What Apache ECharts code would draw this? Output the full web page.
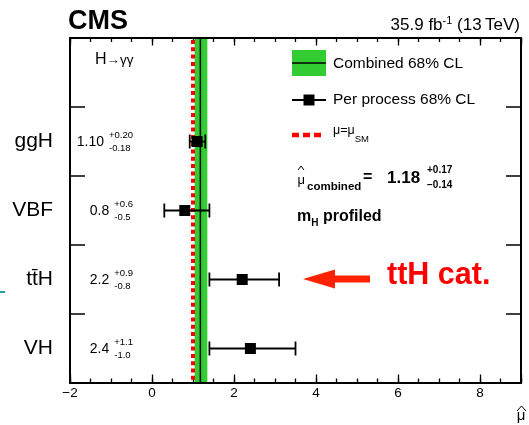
<!DOCTYPE html>
<html>
<head>
<meta charset="utf-8">
<script src="https://cdn.jsdelivr.net/npm/echarts@6/dist/echarts.min.js"></script>
<style>
  html, body { margin: 0; padding: 0; background: #fff; }
  #chart { width: 529px; height: 425px; }
</style>
</head>
<body>
<div id="chart"></div>
<script>
// Signal strength per production process, H -> gamma gamma
const processes = ['ggH', 'VBF', 'tt\u0304H', 'VH'];
const muText    = ['1.10', '0.8', '2.2', '2.4'];
const upText    = ['+0.20', '+0.6', '+0.9', '+1.1'];
const downText  = ['-0.18', '-0.5', '-0.8', '-1.0'];

// Combined fit and Standard Model reference
const combinedMu   = 1.18;
const combinedUp   = 0.17;
const combinedDown = 0.14;
const muSM = 1;

// Horizontal axis range
const xMin = -2, xMax = 9, xMajor = 2, xMinor = 0.5;

const FONT = '"Liberation Sans", Arial, Helvetica, sans-serif';
const GREEN = '#33cc33';
const RED = '#ff0000';

const measureCtx = document.createElement('canvas').getContext('2d');
function textWidth(t, size, bold) {
  measureCtx.font = (bold ? 'bold ' : '') + size + 'px ' + FONT;
  return measureCtx.measureText(t).width;
}
function txt(x, y, t, size, opts) {
  opts = opts || {};
  return {
    type: 'text', x: x, y: y, silent: true, z: 100,
    style: {
      text: t, fill: opts.color || '#000',
      font: (opts.bold ? 'bold ' : '') + size + 'px ' + FONT,
      align: opts.align || 'left', verticalAlign: 'middle'
    }
  };
}
// lay a run of text pieces left to right (optionally right-aligned at x)
function textRun(x, y, parts, alignRight) {
  const widths = parts.map(p => textWidth(p.t, p.size, p.bold) + (p.gap || 0));
  const total = widths.reduce((a, b) => a + b, 0);
  let cx = alignRight ? x - total : x;
  const out = [];
  parts.forEach((p, i) => {
    out.push(txt(cx + (p.gap || 0), y + (p.dy || 0), p.t, p.size, p));
    cx += widths[i];
  });
  return out;
}
function hat(cx, y, w, h) {
  return {
    type: 'polyline', silent: true, z: 100,
    shape: { points: [[cx - w / 2, y], [cx, y - h], [cx + w / 2, y]] },
    style: { stroke: '#000', lineWidth: 1, fill: null }
  };
}

const yCategories = [''].concat(processes);
const barData = processes.map((p, i) => [Number(muText[i]), i + 1, Number(upText[i]), -Number(downText[i])]);
const labelData = processes.map((p, i) => [0, i + 1, i]);

const chart = echarts.init(document.getElementById('chart'), null, { renderer: 'canvas' });

const commonX = { type: 'value', min: xMin, max: xMax, gridIndex: 0, splitLine: { show: false } };
const tickStyle = { color: '#000', width: 1.3 };
const frameLine = { show: true, onZero: false, lineStyle: { color: '#000', width: 2 } };

const graphics = [].concat(
  [txt(68, 22, 'CMS', 27, { bold: true })],
  textRun(520, 25.5, [
    { t: '35.9 fb', size: 17 },
    { t: '-1', size: 11, dy: -5 },
    { t: ' (13\u2009TeV)', size: 17 }
  ], true),
  textRun(95, 59.5, [
    { t: 'H', size: 16 },
    { t: '\u2192\u03b3\u03b3', size: 13.5, dy: 1 }
  ]),
  [
    // legend: combined band
    { type: 'rect', silent: true, z: 100, shape: { x: 292, y: 50, width: 34, height: 26 }, style: { fill: GREEN } },
    { type: 'line', silent: true, z: 101, shape: { x1: 292, y1: 63, x2: 326, y2: 63 }, style: { stroke: '#000', lineWidth: 1.5 } },
    txt(333, 63.5, 'Combined 68% CL', 15.5),
    // legend: per-process marker
    { type: 'line', silent: true, z: 100, shape: { x1: 292, y1: 100, x2: 326, y2: 100 }, style: { stroke: '#000', lineWidth: 1.8 } },
    { type: 'rect', silent: true, z: 101, shape: { x: 303.5, y: 94.5, width: 11, height: 11 }, style: { fill: '#000' } },
    txt(333, 99.5, 'Per process 68% CL', 15.5),
    // legend: SM line
    { type: 'line', silent: true, z: 100, shape: { x1: 292, y1: 135, x2: 321, y2: 135 }, style: { stroke: RED, lineWidth: 4.5, lineDash: [7, 4] } }
  ],
  textRun(333, 131, [
    { t: '\u03bc=\u03bc', size: 12.5 },
    { t: 'SM', size: 9.5, dy: 8 }
  ]),
  [
    txt(297.5, 180, '\u03bc', 13),
    hat(301, 170, 6, 4),
    txt(307, 187, 'combined', 11.5, { bold: true }),
    txt(363, 178, '=', 16, { bold: true }),
    txt(387, 178, '1.18', 17, { bold: true }),
    txt(427, 170.5, '+0.17', 10, { bold: true }),
    txt(427, 185.5, '\u22120.14', 10, { bold: true })
  ],
  textRun(297, 216.5, [
    { t: 'm', size: 16, bold: true },
    { t: 'H', size: 10, bold: true, dy: 7 },
    { t: ' profiled', size: 16, bold: true }
  ]),
  [
    // call-out arrow for the ttH category
    {
      type: 'polygon', silent: true, z: 100,
      shape: { points: [[303, 279], [335, 269.5], [335, 275.5], [370, 275.5], [370, 282.5], [335, 282.5], [335, 288.5]] },
      style: { fill: '#ff2200' }
    },
    txt(387, 276, 'ttH cat.', 30.5, { bold: true, color: RED }),
    { type: 'line', silent: true, z: 100, shape: { x1: 0, y1: 292, x2: 5, y2: 292 }, style: { stroke: '#2a9d9d', lineWidth: 2 } },
    // axis title
    txt(521, 416, '\u03bc', 15, { align: 'center' }),
    hat(521.5, 411, 9, 5)
  ]
);

const option = {
  animation: false,
  backgroundColor: '#fff',
  grid: { left: 70, right: 8, top: 38, bottom: 42, show: false },
  xAxis: [
    Object.assign({}, commonX, {
      position: 'bottom', interval: xMajor,
      axisLine: frameLine,
      axisTick: { show: true, inside: true, length: 8.5, lineStyle: tickStyle },
      axisLabel: {
        show: true, margin: 3, color: '#000', fontSize: 13.5, fontFamily: FONT,
        showMinLabel: true, showMaxLabel: true,
        formatter: v => (Math.abs(v % xMajor) < 1e-9 && v < xMax) ? String(v).replace('-', '\u2212') : ''
      }
    }),
    Object.assign({}, commonX, {
      position: 'bottom', interval: xMinor,
      axisLine: { show: false },
      axisTick: { show: true, inside: true, length: 4.5, lineStyle: tickStyle },
      axisLabel: { show: false }
    }),
    Object.assign({}, commonX, {
      position: 'top', interval: xMajor,
      axisLine: frameLine,
      axisTick: { show: true, inside: true, length: 7.5, lineStyle: tickStyle },
      axisLabel: { show: false }
    }),
    Object.assign({}, commonX, {
      position: 'top', interval: xMinor,
      axisLine: { show: false },
      axisTick: { show: true, inside: true, length: 4, lineStyle: tickStyle },
      axisLabel: { show: false }
    })
  ],
  yAxis: [
    {
      type: 'category', data: yCategories, inverse: true, position: 'left',
      boundaryGap: true,
      axisLine: frameLine,
      axisTick: { show: true, inside: true, length: 15, lineStyle: { color: '#000', width: 1.5 } },
      axisLabel: { show: true, color: '#000', fontSize: 21, fontFamily: FONT, margin: 17 },
      splitLine: { show: false }
    },
    {
      type: 'category', data: yCategories, inverse: true, position: 'right',
      boundaryGap: true,
      axisLine: frameLine,
      axisTick: { show: true, inside: true, length: 15, lineStyle: { color: '#000', width: 1.5 } },
      axisLabel: { show: false },
      splitLine: { show: false }
    }
  ],
  series: [
    {
      // combined 68% CL band and best fit line
      type: 'custom', xAxisIndex: 0, yAxisIndex: 0, z: 2, silent: true,
      data: [[combinedMu, combinedMu - combinedDown, combinedMu + combinedUp]],
      renderItem: function (params, api) {
        const cs = params.coordSys;
        const x0 = api.coord([api.value(1), 1])[0];
        const x1 = api.coord([api.value(2), 1])[0];
        const xc = api.coord([api.value(0), 1])[0];
        return {
          type: 'group', children: [
            { type: 'rect', shape: { x: x0, y: cs.y + 1, width: x1 - x0, height: cs.height - 2 }, style: { fill: GREEN } },
            { type: 'line', shape: { x1: xc, y1: cs.y + 1, x2: xc, y2: cs.y + cs.height - 1 }, style: { stroke: '#000', lineWidth: 1.5 } }
          ]
        };
      }
    },
    {
      // Standard Model expectation
      type: 'custom', xAxisIndex: 0, yAxisIndex: 0, z: 3, silent: true,
      data: [[muSM, 1]],
      renderItem: function (params, api) {
        const cs = params.coordSys;
        const x = api.coord([api.value(0), 1])[0];
        return {
          type: 'line',
          shape: { x1: x, y1: cs.y + 2, x2: x, y2: cs.y + cs.height - 1 },
          style: { stroke: RED, lineWidth: 4, lineDash: [4, 3.3] }
        };
      }
    },
    {
      // per-process best fit with asymmetric 68% CL interval
      type: 'custom', xAxisIndex: 0, yAxisIndex: 0, z: 4, silent: true,
      data: barData,
      renderItem: function (params, api) {
        const mu = api.value(0), cat = api.value(1), up = api.value(2), dn = api.value(3);
        const c = api.coord([mu, cat]);
        const lo = api.coord([mu - dn, cat]);
        const hi = api.coord([mu + up, cat]);
        const capH = 7, sq = 11;
        const st = { stroke: '#000', lineWidth: 1.8 };
        return {
          type: 'group', children: [
            { type: 'line', shape: { x1: lo[0], y1: c[1], x2: hi[0], y2: c[1] }, style: st },
            { type: 'line', shape: { x1: lo[0], y1: c[1] - capH, x2: lo[0], y2: c[1] + capH }, style: st },
            { type: 'line', shape: { x1: hi[0], y1: c[1] - capH, x2: hi[0], y2: c[1] + capH }, style: st },
            { type: 'rect', shape: { x: c[0] - sq / 2, y: c[1] - sq / 2, width: sq, height: sq }, style: { fill: '#000' } }
          ]
        };
      }
    },
    {
      // value with uncertainties printed beside each process
      type: 'custom', xAxisIndex: 0, yAxisIndex: 0, z: 5, silent: true,
      data: labelData,
      renderItem: function (params, api) {
        const i = api.value(2);
        const cy = api.coord([0, api.value(1)])[1];
        const right = params.coordSys.x + 63;
        const supSize = 9.5;
        const w = Math.max(textWidth(upText[i], supSize), textWidth(downText[i], supSize));
        const sx = right - w;
        const f = s => s + 'px ' + FONT;
        return {
          type: 'group', children: [
            { type: 'text', x: sx - 5, y: cy + 0.5, style: { text: muText[i], font: f(14), fill: '#000', align: 'right', verticalAlign: 'middle' } },
            { type: 'text', x: sx, y: cy - 6, style: { text: upText[i], font: f(supSize), fill: '#000', align: 'left', verticalAlign: 'middle' } },
            { type: 'text', x: sx, y: cy + 6.5, style: { text: downText[i], font: f(supSize), fill: '#000', align: 'left', verticalAlign: 'middle' } }
          ]
        };
      }
    }
  ],
  graphic: graphics
};

chart.setOption(option);
</script>
</body>
</html>
